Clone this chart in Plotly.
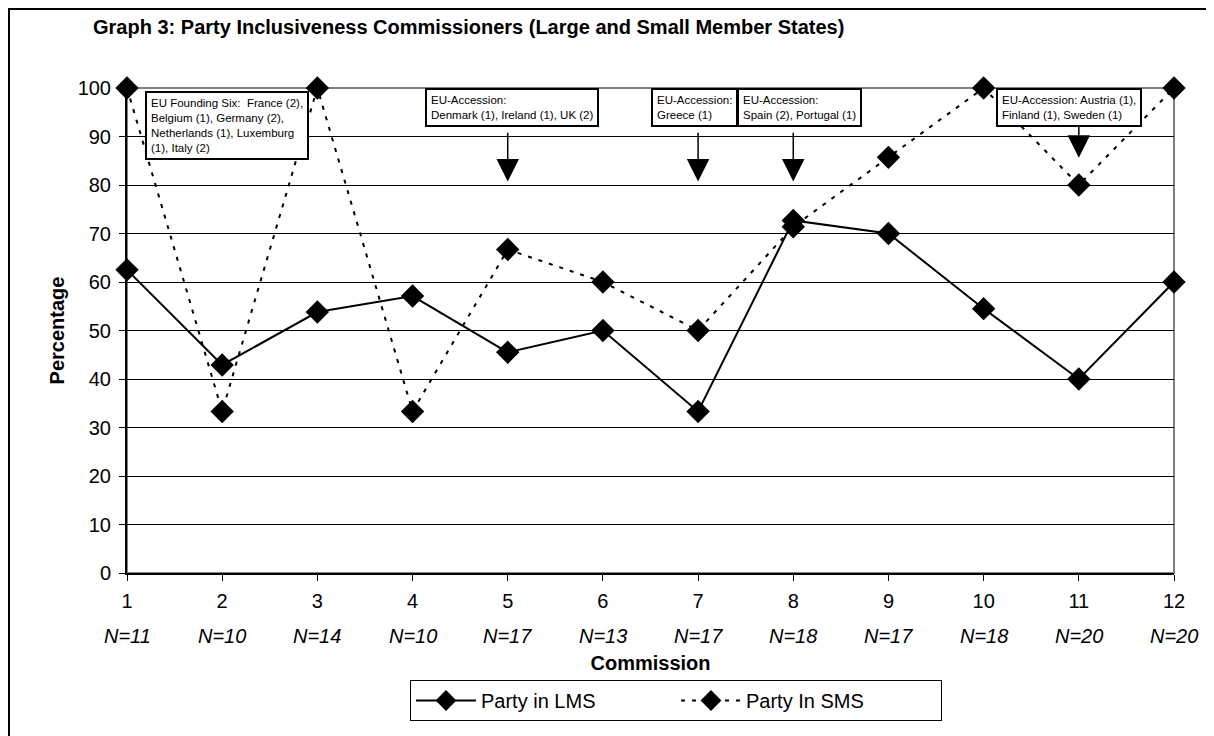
import plotly.graph_objects as go

commissions = [1, 2, 3, 4, 5, 6, 7, 8, 9, 10, 11, 12]
n_labels = ["N=11", "N=10", "N=14", "N=10", "N=17", "N=13", "N=17", "N=18", "N=17", "N=18", "N=20", "N=20"]
party_lms = [62.5, 42.9, 53.8, 57.1, 45.5, 50.0, 33.3, 72.7, 70.0, 54.5, 40.0, 60.0]
party_sms = [100.0, 33.3, 100.0, 33.3, 66.7, 60.0, 50.0, 71.4, 85.7, 100.0, 80.0, 100.0]

notes = [
    "EU Founding Six:  France (2),<br>Belgium (1), Germany (2),<br>Netherlands (1), Luxemburg<br>(1), Italy (2)",
    "EU-Accession:<br>Denmark (1), Ireland (1), UK (2)",
    "EU-Accession:<br>Greece (1)",
    "EU-Accession:<br>Spain (2), Portugal (1)",
    "EU-Accession: Austria (1),<br>Finland (1), Sweden (1)",
]
note_x = [1.19, 4.13, 6.51, 7.41, 10.13]
note_y = [99.4, 100.0, 100.0, 100.0, 100.0]

arrow_x = [5, 7, 8, 11]
arrow_tail = [91.1, 91.1, 91.1, 92.4]
arrow_tip = [80.7, 80.7, 80.7, 85.6]

FONT = "Liberation Sans, Arial, sans-serif"

# figure sized so the plot area lands where the reference has it
W, H = 1206, 728
L, T = 119, 80
PW, PH = 1047, 485
R = W - L - PW
B = H - T - PH


def px_x(page_x):
    return (page_x - 8 - L) / PW


def px_y(page_y):
    return 1 - (page_y - 8 - T) / PH


fig = go.Figure()
fig.add_trace(go.Scatter(
    x=commissions, y=party_lms, name="Party in LMS", mode="lines+markers",
    line=dict(color="black", width=2),
    marker=dict(symbol="diamond", size=18, color="black"),
    cliponaxis=False,
))
fig.add_trace(go.Scatter(
    x=commissions, y=party_sms, name="Party In SMS", mode="lines+markers",
    line=dict(color="black", width=2, dash="4px,7px"),
    marker=dict(symbol="diamond", size=18, color="black"),
    cliponaxis=False,
))

annotations = []
annotations.append(dict(
    text="<b>Graph 3: Party Inclusiveness Commissioners (Large and Small Member States)</b>",
    xref="paper", yref="paper", x=px_x(91), y=px_y(27),
    xanchor="left", yanchor="middle", showarrow=False,
    font=dict(family=FONT, size=20, color="black"),
))
for c, n in zip(commissions, n_labels):
    annotations.append(dict(
        text="<i>" + n + "</i>", x=c, xref="x", yref="paper",
        y=px_y(636), yanchor="middle", xanchor="center", showarrow=False,
        font=dict(family=FONT, size=20, color="black"),
    ))
for t, x, y in zip(notes, note_x, note_y):
    annotations.append(dict(
        text=t, x=x, y=y, xref="x", yref="y", xanchor="left", yanchor="top",
        showarrow=False, align="left", bgcolor="white", bordercolor="black",
        borderwidth=2, borderpad=4,
        font=dict(family=FONT, size=11.5, color="black"),
    ))
for x, t0, t1 in zip(arrow_x, arrow_tail, arrow_tip):
    annotations.append(dict(
        text="", x=x, y=t1, ax=x, ay=t0, xref="x", yref="y", axref="x", ayref="y",
        showarrow=True, arrowhead=2, arrowsize=3, arrowwidth=1.5, arrowcolor="black",
    ))

fig.update_layout(
    width=W, height=H,
    margin=dict(l=L, r=R, t=T, b=B),
    paper_bgcolor="white", plot_bgcolor="white",
    font=dict(family=FONT, size=20, color="black"),
    showlegend=True,
    legend=dict(
        orientation="h", x=px_x(676), xanchor="center", y=px_y(680), yanchor="top",
        bordercolor="black", borderwidth=1, bgcolor="white",
        font=dict(family=FONT, size=20, color="black"),
        entrywidth=190, itemwidth=60,
    ),
    xaxis=dict(
        range=[1, 12], tickmode="array", tickvals=commissions,
        ticktext=[str(c) for c in commissions],
        showgrid=False, zeroline=False, showline=True, linecolor="black", linewidth=2,
        ticks="outside", ticklen=6, tickcolor="black", mirror=False,
        tickfont=dict(family=FONT, size=20), ticklabelstandoff=3,
        title=dict(text="<b>Commission</b>", font=dict(family=FONT, size=20), standoff=45),
    ),
    yaxis=dict(
        range=[0, 100], tick0=0, dtick=10,
        showgrid=True, gridcolor="black", gridwidth=1, zeroline=False,
        showline=True, linecolor="black", linewidth=2,
        ticks="outside", ticklen=6, tickcolor="black",
        tickfont=dict(family=FONT, size=20), ticklabelstandoff=4,
        title=dict(text="<b>Percentage</b>", font=dict(family=FONT, size=20), standoff=8),
    ),
    annotations=annotations,
    shapes=[
        dict(type="rect", xref="paper", yref="paper", x0=0, x1=1, y0=0, y1=1,
             line=dict(color="#808080", width=2), layer="below"),
        dict(type="rect", xref="paper", yref="paper",
             x0=px_x(9), x1=px_x(1230),
             y0=px_y(760), y1=px_y(9),
             line=dict(color="black", width=2)),
    ],
)

fig.write_html("out.html")
